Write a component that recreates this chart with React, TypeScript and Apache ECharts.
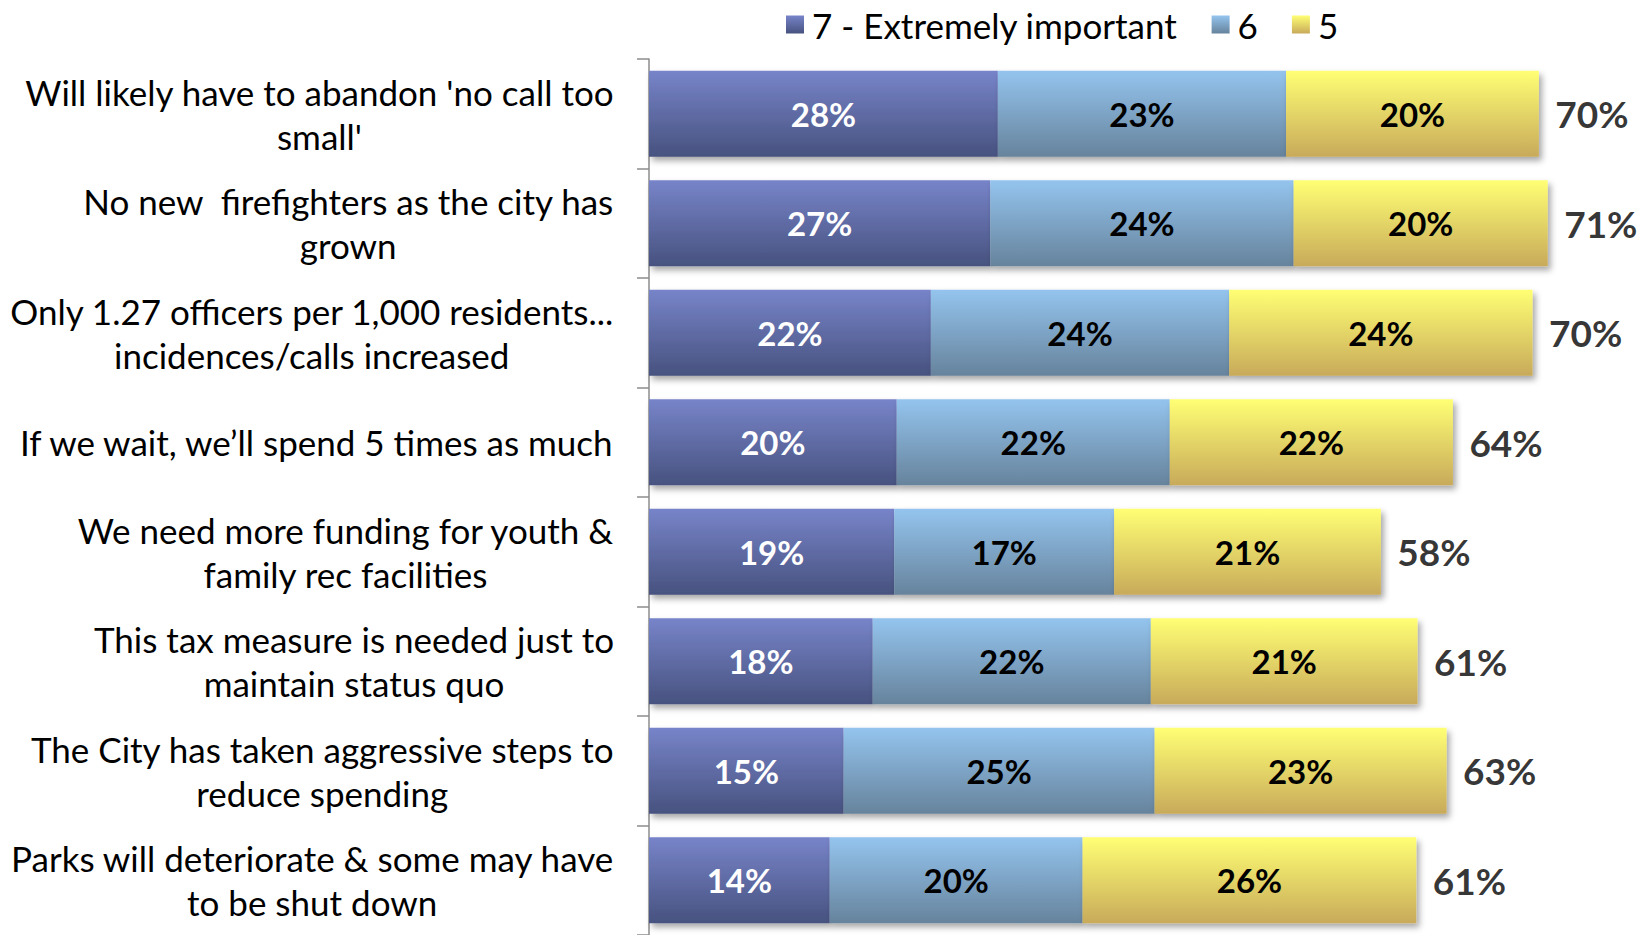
import React, { useEffect, useRef } from "react";
import * as echarts from "echarts";

const categories: string[] = [
  "Will likely have to abandon 'no call too\nsmall'",
  "No new  firefighters as the city has\ngrown",
  "Only 1.27 officers per 1,000 residents...\nincidences/calls increased",
  "If we wait, we’ll spend 5 times as much",
  "We need more funding for youth &\nfamily rec facilities",
  "This tax measure is needed just to\nmaintain status quo",
  "The City has taken aggressive steps to\nreduce spending",
  "Parks will deteriorate & some may have\nto be shut down",
];

const seriesNames: string[] = ["7 - Extremely important", "6", "5"];
const values7: number[] = [27.6, 27.0, 22.3, 19.6, 19.4, 17.7, 15.4, 14.3];
const values6: number[] = [22.8, 24.0, 23.6, 21.6, 17.4, 22.0, 24.6, 20.0];
const values5: number[] = [20.0, 20.1, 24.0, 22.4, 21.1, 21.1, 23.1, 26.4];

const FONT = "Lato, 'Open Sans', sans-serif";

function grad(top: string, bottom: string) {
  return new echarts.graphic.LinearGradient(0, 0, 0, 1, [
    { offset: 0, color: top },
    { offset: 1, color: bottom },
  ]);
}

export default function App() {
  const ref = useRef<HTMLDivElement>(null);

  useEffect(() => {
    if (!ref.current) return;
    const chart = echarts.init(ref.current, undefined, { renderer: "svg" });

    const totals = values7.map((v, i) => v + values6[i] + values5[i]);
    const colors = [
      { fill: grad("#7784c9", "#47527f"), text: "#ffffff" },
      { fill: grad("#94c4ee", "#66839c"), text: "#000000" },
      { fill: grad("#ffff74", "#c8aa5a"), text: "#000000" },
    ];
    const lists = [values7, values6, values5];

    const barSeries = lists.map((vals, si) => ({
      name: seriesNames[si],
      type: "bar",
      stack: "total",
      barWidth: 86,
      data: vals,
      itemStyle: {
        color: colors[si].fill,
        shadowColor: "rgba(0,0,0,0.35)",
        shadowBlur: 6,
        shadowOffsetX: 3,
        shadowOffsetY: 4,
      },
      label: {
        show: true,
        position: "inside",
        color: colors[si].text,
        fontFamily: FONT,
        fontWeight: "bold",
        fontSize: 33,
        formatter: (p: any) => Math.round(p.value) + "%",
      },
    }));

    chart.setOption({
      animation: false,
      backgroundColor: "#ffffff",
      legend: {
        data: seriesNames,
        left: 786,
        top: 7,
        padding: 0,
        icon: "rect",
        itemWidth: 18,
        itemHeight: 18,
        itemGap: 34,
        textStyle: { fontFamily: FONT, fontSize: 35, color: "#000", padding: [0, 0, 0, 3] },
      },
      grid: { left: 649, right: 43, top: 59, bottom: -4, containLabel: false },
      xAxis: { type: "value", min: 0, max: 75, show: false },
      yAxis: {
        type: "category",
        inverse: true,
        data: categories,
        axisLine: { show: true, lineStyle: { color: "#8c8c8c", width: 1.5 } },
        axisTick: { show: true, length: 12, lineStyle: { color: "#8c8c8c", width: 1.5 } },
        axisLabel: {
          margin: 35,
          color: "#000",
          fontFamily: FONT,
          fontSize: 35,
          lineHeight: 44,
          formatter: (v: string) =>
            v
              .split("\n")
              .map((l) => "{c|" + l + "}")
              .join("\n"),
          rich: {
            c: { align: "center", fontFamily: FONT, fontSize: 35, lineHeight: 44, color: "#000" },
          },
        },
      },
      series: [
        ...barSeries,
        {
          name: "total",
          type: "scatter",
          silent: true,
          symbolSize: 1,
          itemStyle: { color: "rgba(0,0,0,0)" },
          data: totals.map((t, i) => [t, categories[i]]),
          label: {
            show: true,
            position: "right",
            distance: 16,
            color: "#000",
            fontFamily: FONT,
            fontWeight: "bold",
            fontSize: 37,
            formatter: (p: any) => Math.round(p.value[0]) + "%",
          },
        },
      ],
    });

    return () => chart.dispose();
  }, []);

  return (
    <div
      ref={ref}
      style={{ position: "fixed", left: 0, top: 0, width: 1640, height: 935 }}
    />
  );
}
